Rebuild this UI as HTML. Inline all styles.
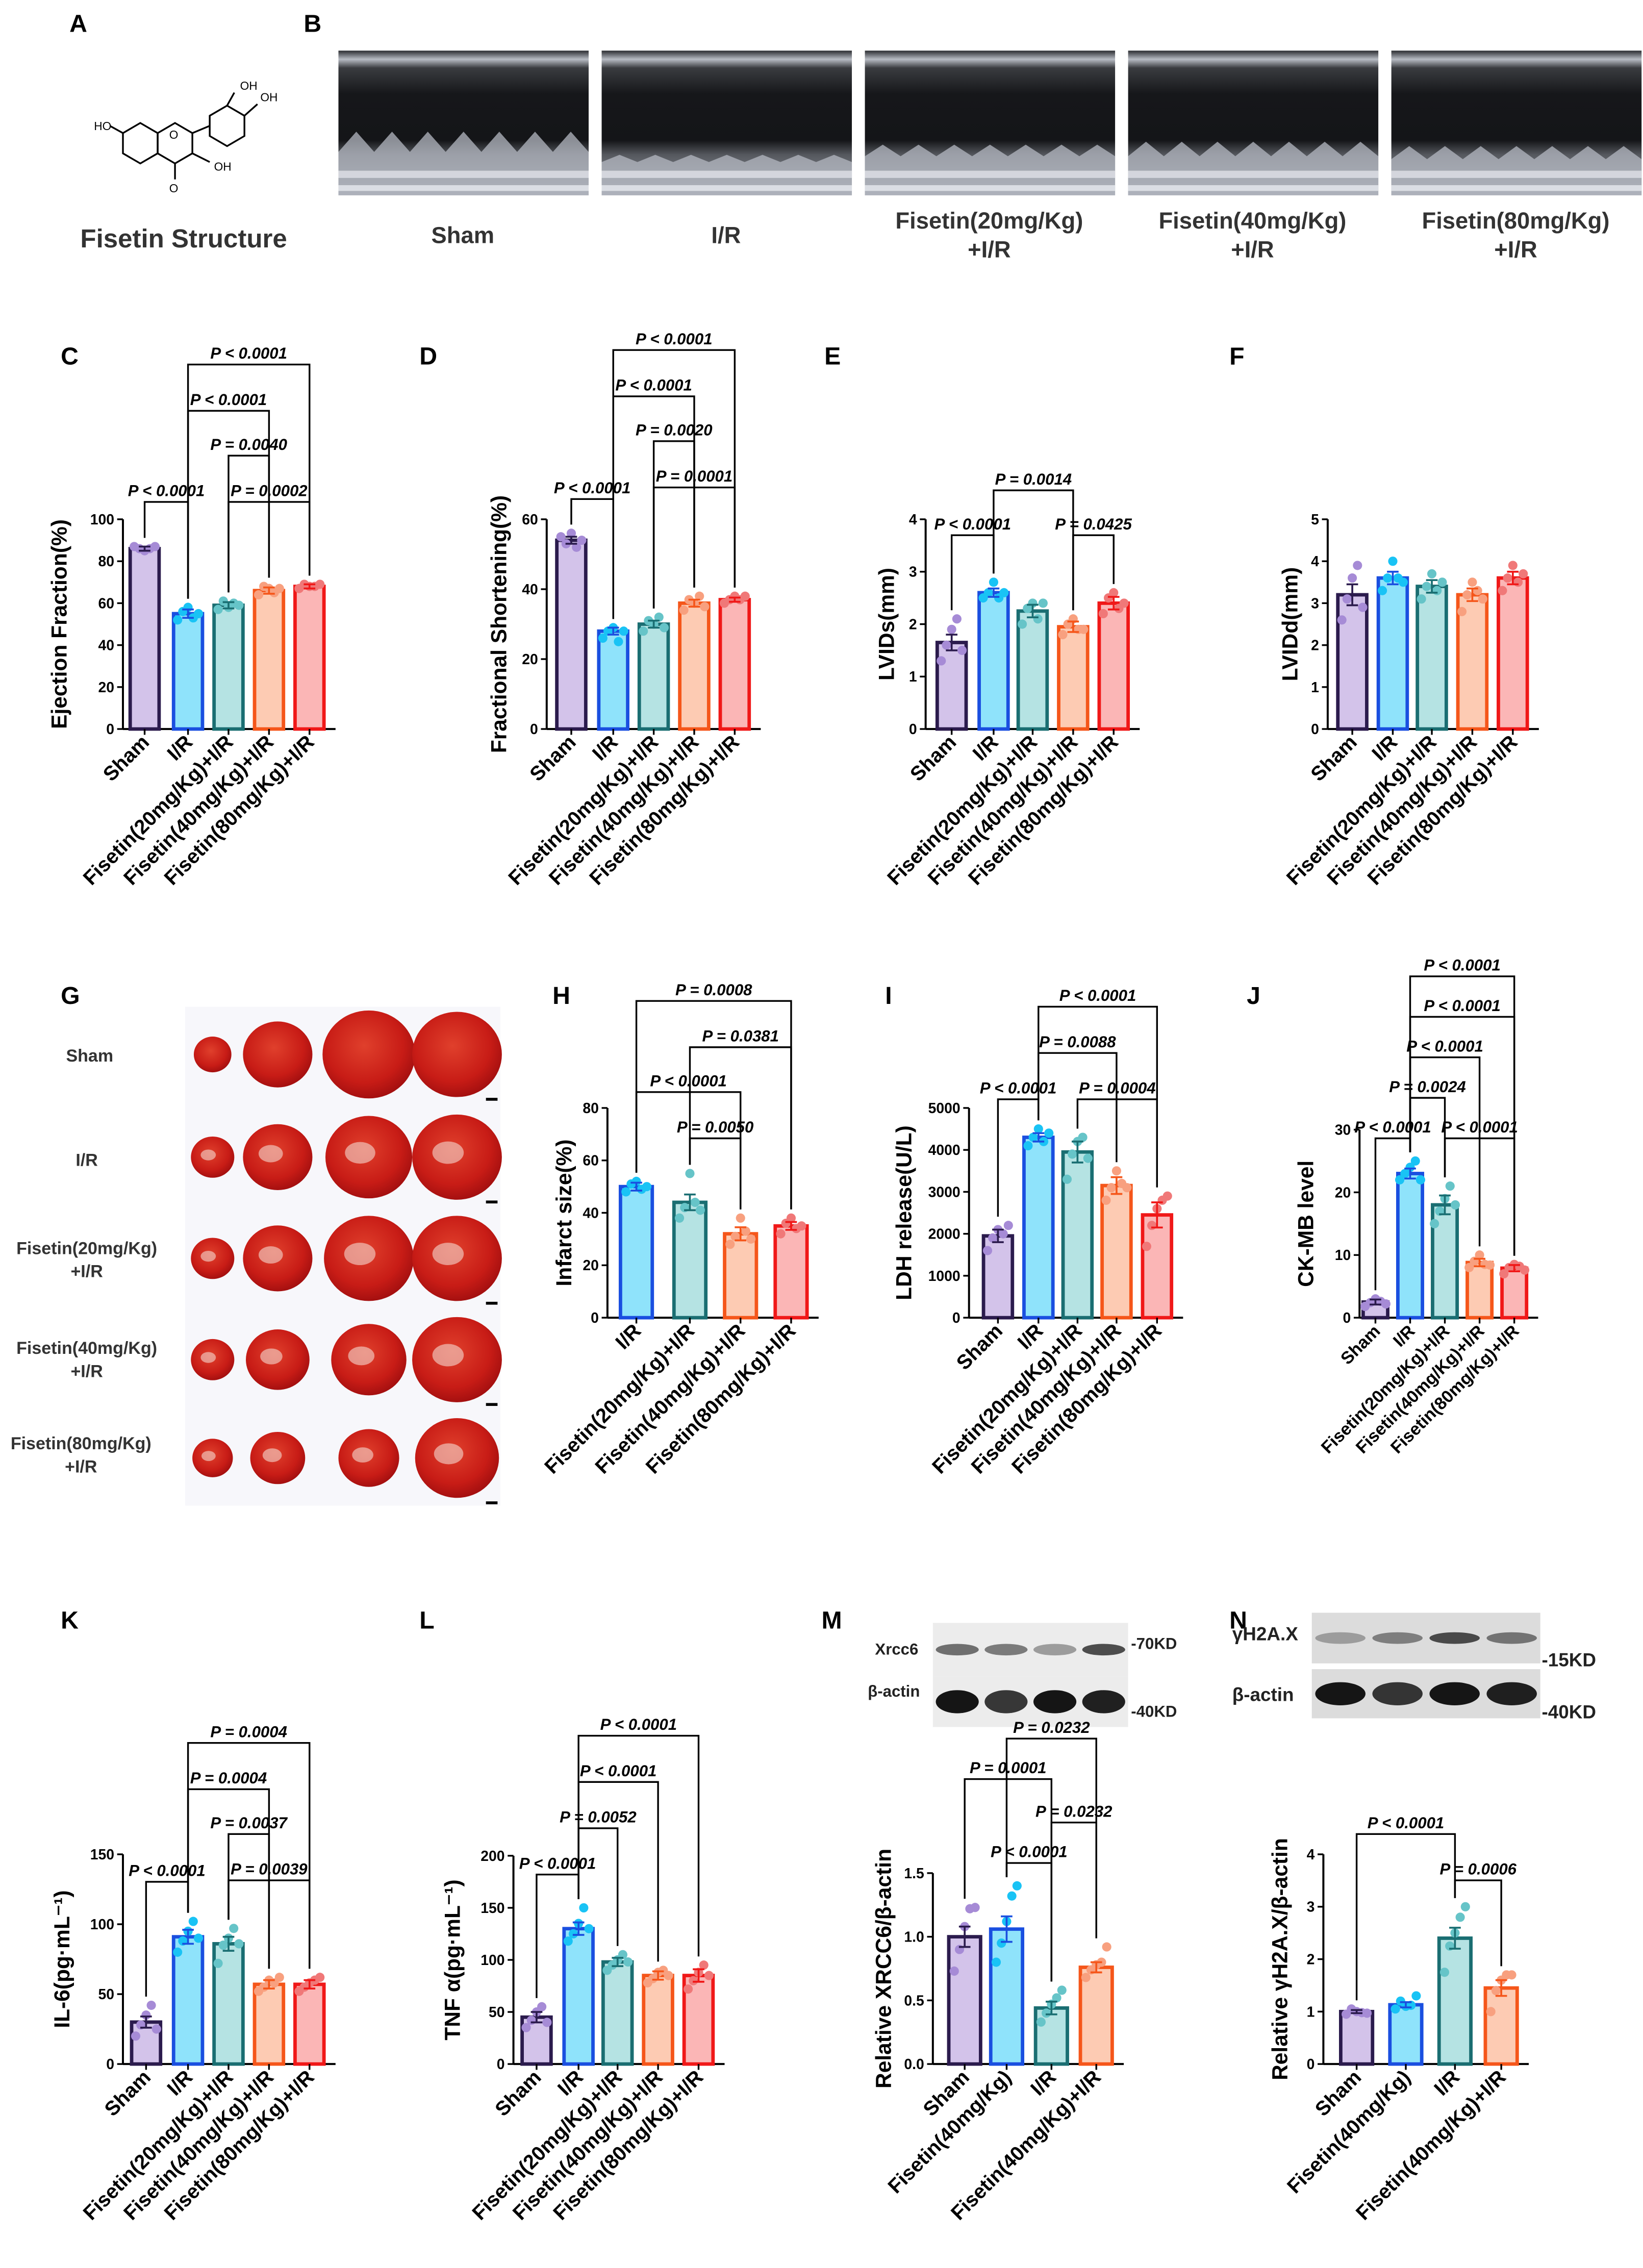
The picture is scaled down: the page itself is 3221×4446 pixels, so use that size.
<!DOCTYPE html>
<html><head><meta charset="utf-8"><title>Fisetin figure</title>
<style>
html,body{margin:0;padding:0;background:#fff;}
svg{display:block;font-family:"Liberation Sans",Arial,sans-serif;}
</style></head>
<body>
<svg id="fig" width="3221" height="4446" viewBox="0 0 1136 1568" xmlns="http://www.w3.org/2000/svg">
<defs>
<linearGradient id="echoG" x1="0" y1="0" x2="0" y2="1">
<stop offset="0" stop-color="#2a2c30"/><stop offset="0.06" stop-color="#b8bcc4"/><stop offset="0.12" stop-color="#3a3c40"/><stop offset="0.3" stop-color="#16171a"/><stop offset="0.62" stop-color="#141518"/><stop offset="0.72" stop-color="#55585e"/><stop offset="1" stop-color="#9ca0a8"/>
</linearGradient>
<radialGradient id="heartG" cx="0.45" cy="0.4" r="0.6">
<stop offset="0" stop-color="#e0402c"/><stop offset="0.7" stop-color="#c81c16"/><stop offset="1" stop-color="#a51010"/>
</radialGradient>
</defs>
<g id="static">
<text x="48" y="22" font-size="17" font-weight="bold">A</text>
<text x="210" y="22" font-size="17" font-weight="bold">B</text>
<g stroke="#000" stroke-width="1.2" fill="none">
<polygon points="85,92 97,85 109,92 109,106 97,113 85,106"/>
<polygon points="109,92 121,85 133,92 133,106 121,113 109,106"/>
<polygon points="145,80 157,73 169,80 169,94 157,101 145,94"/>
<line x1="133" y1="92" x2="145" y2="87"/>
<line x1="121" y1="113" x2="121" y2="124"/>
<line x1="133" y1="106" x2="145" y2="112"/>
<line x1="85" y1="92" x2="76" y2="87"/>
<line x1="157" y1="73" x2="162" y2="64"/>
<line x1="169" y1="80" x2="178" y2="72"/>
</g>
<g font-size="8">
<text x="65" y="90">HO</text><text x="166" y="62">OH</text><text x="180" y="70">OH</text>
<text x="148" y="118">OH</text><text x="117" y="133">O</text><text x="117" y="96">O</text>
</g>
<text x="127" y="171" font-size="18" font-weight="bold" text-anchor="middle" fill="#333">Fisetin Structure</text>
<g id="echos"></g>
<g font-size="16" font-weight="bold" fill="#333" text-anchor="middle">
<text x="320" y="168">Sham</text><text x="502" y="168">I/R</text>
<text x="684" y="158">Fisetin(20mg/Kg)</text><text x="684" y="178">+I/R</text>
<text x="866" y="158">Fisetin(40mg/Kg)</text><text x="866" y="178">+I/R</text>
<text x="1048" y="158">Fisetin(80mg/Kg)</text><text x="1048" y="178">+I/R</text>
</g>
<g font-size="17" font-weight="bold">
<text x="42" y="252">C</text><text x="290" y="252">D</text><text x="570" y="252">E</text><text x="850" y="252">F</text>
<text x="42" y="694">G</text><text x="382" y="694">H</text><text x="612" y="694">I</text><text x="862" y="694">J</text>
<text x="42" y="1126">K</text><text x="290" y="1126">L</text><text x="568" y="1126">M</text><text x="850" y="1126">N</text>
</g>
<g id="hearts"></g>
<g font-size="12" font-weight="bold" fill="#333" text-anchor="middle">
<text x="62" y="734">Sham</text><text x="60" y="806">I/R</text>
<text x="60" y="867">Fisetin(20mg/Kg)</text><text x="60" y="883">+I/R</text>
<text x="60" y="936">Fisetin(40mg/Kg)</text><text x="60" y="952">+I/R</text>
<text x="56" y="1002">Fisetin(80mg/Kg)</text><text x="56" y="1018">+I/R</text>
</g>
<g id="blots"></g>
<g font-size="11" font-weight="bold" fill="#222">
<text x="605" y="1144">Xrcc6</text><text x="600" y="1173">β-actin</text>
<text x="782" y="1140">-70KD</text><text x="782" y="1187">-40KD</text>
<text x="852" y="1134" font-size="13">γH2A.X</text><text x="852" y="1176" font-size="13">β-actin</text>
<text x="1066" y="1152" font-size="13">-15KD</text><text x="1066" y="1188" font-size="13">-40KD</text>
</g>
</g>
<g id="charts"></g>
</svg>
<script>
// ---------- DATA ----------
const cats5 = ['Sham','I/R','Fisetin(20mg/Kg)+I/R','Fisetin(40mg/Kg)+I/R','Fisetin(80mg/Kg)+I/R'];
const cats4H = ['I/R','Fisetin(20mg/Kg)+I/R','Fisetin(40mg/Kg)+I/R','Fisetin(80mg/Kg)+I/R'];
const cats4W = ['Sham','Fisetin(40mg/Kg)','I/R','Fisetin(40mg/Kg)+I/R'];

const cVals = [86, 55, 59, 66, 68];
const cSem = [1, 2, 1.5, 1.5, 1];
const cPts = [[87,86,85,86,87],[52,56,58,53,55],[57,61,58,60,59],[64,68,67,65,67],[67,69,68,68,69]];
const cTicks = [0,20,40,60,80,100];
const cComps = [[0,1,'P < 0.0001'],[1,4,'P < 0.0001'],[1,3,'P < 0.0001'],[2,3,'P = 0.0040'],[2,4,'P = 0.0002']];

const dVals = [54, 28, 30, 36, 37];
const dSem = [1, 1, 1, 1, 0.6];
const dPts = [[55,53,56,52,54],[26,28,29,25,28],[28,31,30,32,29],[34,37,36,38,35],[36,37,38,37,38]];
const dTicks = [0,20,40,60];
const dComps = [[0,1,'P < 0.0001'],[1,4,'P < 0.0001'],[1,3,'P < 0.0001'],[2,3,'P = 0.0020'],[2,4,'P = 0.0001']];

const eVals = [1.65, 2.6, 2.25, 1.95, 2.4];
const eSem = [0.15, 0.08, 0.12, 0.1, 0.12];
const ePts = [[1.3,1.6,1.9,2.1,1.5],[2.5,2.6,2.8,2.5,2.6],[2.0,2.3,2.4,2.1,2.4],[1.8,2.0,2.1,1.9,1.9],[2.2,2.5,2.6,2.3,2.4]];
const eTicks = [0,1,2,3,4];
const eComps = [[0,1,'P < 0.0001'],[1,3,'P = 0.0014'],[3,4,'P = 0.0425']];

const fVals = [3.2, 3.6, 3.4, 3.2, 3.6];
const fSem = [0.25, 0.15, 0.15, 0.15, 0.15];
const fPts = [[2.6,3.1,3.6,3.9,2.9],[3.3,3.6,4.0,3.6,3.5],[3.1,3.4,3.7,3.3,3.5],[2.8,3.2,3.5,3.3,3.1],[3.3,3.6,3.9,3.5,3.7]];
const fTicks = [0,1,2,3,4,5];
const fComps = [];

const hVals = [50, 44, 32, 35];
const hSem = [1.5, 3, 2.5, 1.5];
const hPts = [[48,51,52,49,50],[38,42,55,44,41],[28,31,38,33,30],[32,36,38,34,35]];
const hTicks = [0,20,40,60,80];
const hComps = [[0,2,'P < 0.0001'],[1,2,'P = 0.0050'],[0,3,'P = 0.0008'],[1,3,'P = 0.0381']];

const iVals = [1950, 4300, 3950, 3150, 2450];
const iSem = [150, 100, 250, 200, 300];
const iPts = [[1600,1900,2100,2000,2200],[4100,4300,4500,4200,4400],[3300,3900,4200,4300,3800],[2800,3100,3500,3200,3100],[1700,2200,2600,2800,2900]];
const iTicks = [0,1000,2000,3000,4000,5000];
const iComps = [[0,1,'P < 0.0001'],[1,3,'P = 0.0088'],[1,4,'P < 0.0001'],[2,4,'P = 0.0004']];

const jVals = [2.5, 23, 18, 8.8, 7.9];
const jSem = [0.4, 0.8, 1.5, 0.6, 0.5];
const jPts = [[1.8,2.4,3.0,2.6,2.2],[22,23,24,25,22],[15,17,19,21,18],[8,9,10,8.5,8.4],[7,8,8.5,8.2,7.6]];
const jTicks = [0,10,20,30];
const jComps = [[0,1,'P < 0.0001'],[1,2,'P = 0.0024'],[1,3,'P < 0.0001'],[1,4,'P < 0.0001'],[1,4,'P < 0.0001'],[2,4,'P < 0.0001']];

const kVals = [30, 91, 86, 57, 57];
const kSem = [4, 5, 5, 3, 3];
const kPts = [[20,28,35,42,25],[80,88,95,102,90],[72,85,90,97,86],[52,55,60,58,62],[52,55,58,60,62]];
const kTicks = [0,50,100,150];
const kComps = [[0,1,'P < 0.0001'],[1,4,'P = 0.0004'],[1,3,'P = 0.0004'],[2,3,'P = 0.0037'],[2,4,'P = 0.0039']];

const lVals = [45, 130, 98, 85, 85];
const lSem = [5, 6, 4, 4, 6];
const lPts = [[35,42,50,55,40],[118,125,135,150,130],[90,95,100,105,98],[78,82,88,90,85],[72,80,88,95,85]];
const lTicks = [0,50,100,150,200];
const lComps = [[0,1,'P < 0.0001'],[1,2,'P = 0.0052'],[1,3,'P < 0.0001'],[1,4,'P < 0.0001']];

const mVals = [1.0, 1.06, 0.44, 0.76];
const mSem = [0.08, 0.1, 0.05, 0.04];
const mPts = [[0.73,0.9,1.08,1.22,1.23],[0.8,0.95,1.12,1.32,1.4],[0.33,0.4,0.47,0.52,0.58],[0.68,0.74,0.78,0.8,0.92]];
const mTicks = [0.0,0.5,1.0,1.5];
const mComps = [[0,2,'P = 0.0001'],[1,3,'P = 0.0232'],[1,2,'P < 0.0001'],[2,3,'P = 0.0232']];

const nVals = [1.0, 1.13, 2.4, 1.45];
const nSem = [0.03, 0.05, 0.2, 0.15];
const nPts = [[0.95,1.05,1.0,0.98,0.97],[1.05,1.2,1.1,1.12,1.3],[1.75,2.25,2.5,2.8,3.0],[1.0,1.4,1.6,1.7,1.7]];
const nTicks = [0,1,2,3,4];
const nComps = [[0,2,'P < 0.0001'],[2,3,'P = 0.0006']];

// ---------- LAYOUT ----------
const PAL = [
  {s:'#2b1b4d', f:'#d3c3ea', p:'#a68bd6'},
  {s:'#1a4fe0', f:'#8fe3fb', p:'#19c3f5'},
  {s:'#1a6e72', f:'#b5e3e3', p:'#66c4c8'},
  {s:'#f5561a', f:'#fdcbb3', p:'#f8a07f'},
  {s:'#f01818', f:'#fbb6b6', p:'#f07878'}
];
const NS = 'http://www.w3.org/2000/svg';
function mk(tag, attrs, parent){const e=document.createElementNS(NS,tag);for(const k in attrs)e.setAttribute(k,attrs[k]);(parent||document.getElementById('charts')).appendChild(e);return e;}

const panels = [
 {id:'c',x0:85,y0:504,yTop:359,max:100,ticks:cTicks,cats:cats5,vals:cVals,sem:cSem,pts:cPts,col:[0,1,2,3,4],bx:[100,130,158,186,214],bw:20,title:'Ejection Fraction(%)',tx:46,comps:cComps,lv:[347,252,284,315,347]},
 {id:'d',x0:378,y0:504,yTop:359,max:60,ticks:dTicks,cats:cats5,vals:dVals,sem:dSem,pts:dPts,col:[0,1,2,3,4],bx:[395,424,452,480,508],bw:20,title:'Fractional Shortening(%)',tx:350,comps:dComps,lv:[345,242,274,305,337]},
 {id:'e',x0:640,y0:504,yTop:359,max:4,ticks:eTicks,cats:cats5,vals:eVals,sem:eSem,pts:ePts,col:[0,1,2,3,4],bx:[658,687,714,742,770],bw:20,title:'LVIDs(mm)',tx:618,comps:eComps,lv:[370,339,370]},
 {id:'f',x0:918,y0:504,yTop:359,max:5,ticks:fTicks,cats:cats5,vals:fVals,sem:fSem,pts:fPts,col:[0,1,2,3,4],bx:[935,963,990,1018,1046],bw:20,title:'LVIDd(mm)',tx:897,comps:fComps,lv:[]},
 {id:'h',x0:420,y0:911,yTop:766,max:80,ticks:hTicks,cats:cats4H,vals:hVals,sem:hSem,pts:hPts,col:[1,2,3,4],bx:[440,477,512,547],bw:22,title:'Infarct size(%)',tx:395,comps:hComps,lv:[755,787,692,724]},
 {id:'i',x0:670,y0:911,yTop:766,max:5000,ticks:iTicks,cats:cats5,vals:iVals,sem:iSem,pts:iPts,col:[0,1,2,3,4],bx:[690,718,745,772,800],bw:20,title:'LDH release(U/L)',tx:630,comps:iComps,lv:[760,728,696,760]},
 {id:'j',x0:940,y0:911,yTop:781,max:30,ticks:jTicks,cats:cats5,vals:jVals,sem:jSem,pts:jPts,col:[0,1,2,3,4],bx:[951,975,999,1023,1047],bw:17,title:'CK-MB level',tx:908,comps:jComps,lv:[787,759,731,703,675,787],fs:12},
 {id:'k',x0:85,y0:1427,yTop:1282,max:150,ticks:kTicks,cats:cats5,vals:kVals,sem:kSem,pts:kPts,col:[0,1,2,3,4],bx:[101,130,158,186,214],bw:20,title:'IL-6(pg·mL⁻¹)',tx:48,comps:kComps,lv:[1301,1205,1237,1268,1300]},
 {id:'l',x0:355,y0:1427,yTop:1283,max:200,ticks:lTicks,cats:cats5,vals:lVals,sem:lSem,pts:lPts,col:[0,1,2,3,4],bx:[371,400,427,455,483],bw:20,title:'TNF α(pg·mL⁻¹)',tx:318,comps:lComps,lv:[1296,1264,1232,1200]},
 {id:'m',x0:645,y0:1427,yTop:1295,max:1.5,ticks:mTicks,cats:cats4W,vals:mVals,sem:mSem,pts:mPts,col:[0,1,2,3],bx:[667,696,727,758],bw:22,title:'Relative XRCC6/β-actin',tx:616,comps:mComps,lv:[1230,1202,1288,1260],dec:1},
 {id:'n',x0:915,y0:1427,yTop:1282,max:4,ticks:nTicks,cats:cats4W,vals:nVals,sem:nSem,pts:nPts,col:[0,1,2,3],bx:[938,972,1006,1038],bw:22,title:'Relative γH2A.X/β-actin',tx:890,comps:nComps,lv:[1268,1300]}
];
const jit = [-6,-3,0,3,6];

function drawPanel(p){
  const g = mk('g',{});
  
  
  const ys = v => p.y0 - v/p.max*(p.y0-p.yTop);
  const xEnd = p.bx[p.bx.length-1]+p.bw/2+8;
  const ya = mk('line',{x1:p.x0,y1:p.y0,x2:p.x0,y2:p.yTop,stroke:'#000','stroke-width':1.4},g);
  
  
  const xa = mk('line',{x1:p.x0,y1:p.y0,x2:xEnd,y2:p.y0,stroke:'#000','stroke-width':1.4},g);
  
  
  p.ticks.forEach(t=>{
    const y=ys(t);
    const tk = mk('line',{x1:p.x0-4,y1:y,x2:p.x0,y2:y,stroke:'#000','stroke-width':1.2},g);
    
    
    const tl = mk('text',{x:p.x0-6,y:y+3.5,'font-size':10,'font-weight':'bold','text-anchor':'end'},g);
    
    
    tl.textContent = p.dec ? t.toFixed(p.dec) : String(t);
  });
  const cy = (p.y0+p.yTop)/2;
  const tt = mk('text',{x:p.tx,y:cy,'font-size':15,'font-weight':'bold','text-anchor':'middle',transform:`rotate(-90 ${p.tx} ${cy})`},g);
  
  
  tt.textContent = p.title;
  p.vals.forEach((v,i)=>{
    const c = PAL[p.col[i]], x=p.bx[i];
    const b = mk('rect',{x:x-p.bw/2,y:ys(v),width:p.bw,height:p.y0-ys(v),fill:c.f,stroke:c.s,'stroke-width':2.4},g);
    
    
    const xt = mk('line',{x1:x,y1:p.y0,x2:x,y2:p.y0+4,stroke:'#000','stroke-width':1.2},g);
    
    
    p.pts[i].forEach((pv,k)=>{
      const d = mk('circle',{cx:x+jit[k]*1.2,cy:ys(pv),r:3.2,fill:c.p},g);
      
      
    });
    const e = mk('path',{d:`M${x} ${ys(v-p.sem[i])}V${ys(v+p.sem[i])}M${x-4} ${ys(v+p.sem[i])}H${x+4}M${x-4} ${ys(v-p.sem[i])}H${x+4}`,stroke:c.s,'stroke-width':1.3,fill:'none'},g);
    
    
    const lx=x+4, ly=p.y0+10;
    const cl = mk('text',{x:lx,y:ly,'font-size':p.fs||14,'font-weight':'bold','text-anchor':'end',transform:`rotate(-45 ${lx} ${ly})`},g);
    
    
    cl.textContent = p.cats[i];
  });
  p.comps.forEach((cm,k)=>{
    const [a,b,lab]=cm, L=p.lv[k];
    const topA = Math.min(...p.pts[a].map(ys), ys(p.vals[a]+p.sem[a]))-6;
    const topB = Math.min(...p.pts[b].map(ys), ys(p.vals[b]+p.sem[b]))-6;
    const br = mk('path',{d:`M${p.bx[a]} ${Math.max(topA,L+6)}V${L}H${p.bx[b]}V${Math.max(topB,L+6)}`,stroke:'#000','stroke-width':1.2,fill:'none'},g);
    
    
    const pt = mk('text',{x:(p.bx[a]+p.bx[b])/2,y:L-4,'font-size':11,'font-weight':'bold','font-style':'italic','text-anchor':'middle'},g);
    
    
    pt.textContent = lab;
  });
}
panels.forEach(drawPanel);

// echo images
const eg = document.getElementById('echos');
[234,416,598,780,962].forEach((x,n)=>{
  const r = mk('rect',{x:x,y:35,width:173,height:100,fill:'url(#echoG)'},eg);
  
  
  const amp = [14,5,8,10,9][n];
  const base = [105,112,108,108,110][n];
  let d=`M${x} 135V${base}`;
  for(let k=0;k<=14;k++){const xx=x+k*173/14;d+=`L${xx} ${base-(k%2?amp:0)}`;}
  d+=`V135Z`;
  const w = mk('path',{d:d,fill:'#b4b8c2',opacity:0.75},eg);
  
  
  const l = mk('rect',{x:x,y:118,width:173,height:5,fill:'#e8eaf0',opacity:0.7},eg);
  
  
  const l2 = mk('rect',{x:x,y:128,width:173,height:4,fill:'#f0f2f6',opacity:0.7},eg);
  
  
});
// hearts
const hg = document.getElementById('hearts');
const bg = mk('rect',{x:128,y:696,width:218,height:345,fill:'#f7f7fb'},hg);


const rowsY=[729,800,870,940,1008], colsX=[147,192,255,316], rx=[[13,24,32,31],[15,24,30,31],[15,24,31,31],[15,22,26,31],[14,19,21,29]];
rowsY.forEach((y,i)=>colsX.forEach((x,j)=>{
  const h = mk('ellipse',{cx:x,cy:y,rx:rx[i][j],ry:rx[i][j]*0.95,fill:'url(#heartG)'},hg);
  
  
  if(i>0){
    const s = mk('ellipse',{cx:x-rx[i][j]*0.2,cy:y-rx[i][j]*0.1,rx:rx[i][j]*0.35,ry:rx[i][j]*0.25,fill:'#f4d8d0',opacity:0.6},hg);
    
    
  }
}));
rowsY.forEach(y=>{
  const s = mk('rect',{x:336,y:y+30,width:8,height:2,fill:'#000'},hg);
  
  
});
// blots
const bl = document.getElementById('blots');
[[645,1122,135,37],[645,1159,135,35],[907,1115,158,35],[907,1154,158,34]].forEach((b,i)=>{
  const r = mk('rect',{x:b[0],y:b[1],width:b[2],height:b[3],fill:i<2?'#ececec':'#dcdcdc'},bl);
  
  
  const n=4;
  for(let k=0;k<n;k++){
    const cx=b[0]+b[2]*(k+0.5)/n;
    const strong = i===1||i===3;
    const op = strong?[0.95,0.8,0.95,0.9][k]:(i===0?[0.55,0.5,0.35,0.7][k]:[0.3,0.45,0.7,0.5][k]);
    const band = mk('ellipse',{cx:cx,cy:b[1]+b[3]/2,rx:b[2]/n*0.44,ry:strong?8:4,fill:'#0a0a0a',opacity:op},bl);
    
    
  }
});
</script>
</body></html>
